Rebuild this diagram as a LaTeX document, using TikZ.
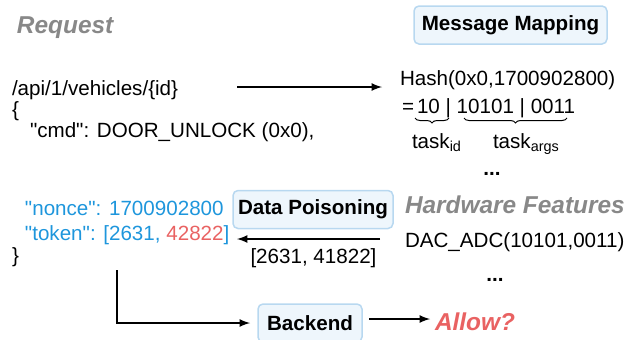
\documentclass[tikz,border=0pt]{standalone}
\usepackage{fontspec}
\setmainfont{Liberation Sans}
\usetikzlibrary{positioning,decorations.pathreplacing}
\definecolor{titlegray}{HTML}{888888}
\definecolor{jsonblue}{HTML}{1E96DC}
\definecolor{alertred}{HTML}{E96262}
\definecolor{boxfill}{HTML}{EEF6FC}
\definecolor{boxline}{HTML}{B8D8F0}
\newcommand{\diagfont}{\fontsize{10.3}{12}\selectfont}
\newcommand{\headfont}{\fontsize{12.2}{14}\selectfont\bfseries\itshape}
\newcommand{\q}{\textquotedbl}

\begin{document}
\begin{tikzpicture}[x=0.5pt,y=-0.5pt,every node/.style={outer sep=0pt},
 txt/.style={anchor=base west,inner sep=0pt,font=\diagfont},
 head/.style={anchor=base west,inner sep=0pt,font=\headfont,text=titlegray},
 stage/.style={draw=boxline,line width=0.75pt,fill=boxfill,rounded corners=2.5pt,
 font=\diagfont\bfseries,minimum height=19pt,inner sep=0pt},
 flow/.style={-latex,line width=0.8pt},
 brc/.style={decorate,decoration={brace,mirror,amplitude=2.5pt},line width=0.5pt}]

\useasboundingbox (0,0) rectangle (641,339);

% request side
\node[head] (req) at (17,33) {Request};
\node[txt] (api) at (12,95) {/api/1/vehicles/\{id\}};
\node[txt] (open) at (12,116) {\{};
\node[txt] (cmd) at (30,137) {\q cmd\q: DOOR\_UNLOCK (0x0),};
\node[txt,text=jsonblue] (nonce) at (25,215) {\q nonce\q: 1700902800};
\node[txt,text=jsonblue] (token) at (25,240) {\q token\q: [2631, \textcolor{alertred}{42822}]};
\node[txt] (close) at (12,262) {\}};

% mapping
\node[stage,minimum width=96.5pt] (map) at (510.5,25) {Message Mapping};
\node[txt] (hash) at (400,85) {Hash(0x0,1700902800)};
\node[txt] (eq) at (402,113) {=};
\node[txt] (bits) at (417,113) {10 | 10101 | 0011};
\draw[brc] (415,118) -- (449,118);
\draw[brc] (464,118) -- (567,118);
\node[txt] (tid) at (412,148) {task\textsubscript{id}};
\node[txt] (targs) at (493,148) {task\textsubscript{args}};
\node[txt,font=\diagfont\bfseries,anchor=base] (dots1) at (492,175) {...};

% hardware
\node[head] (hw) at (405,213) {Hardware Features};
\node[txt] (dac) at (405,247) {DAC\_ADC(10101,0011)};
\node[txt,font=\diagfont\bfseries,anchor=base] (dots2) at (495,281) {...};

\node[stage,minimum width=80pt] (poison) at (313,209.5) {Data Poisoning};
\node[stage,minimum width=52pt] (backend) at (310,323) {Backend};
\node[head,text=alertred] (allow) at (435,330) {Allow?};

\coordinate (apiout) at (237,87);
\coordinate (hashin) at (382,87);
\coordinate (dacout) at (380,239);
\coordinate (tokenin) at (237,239);
\coordinate (reqout) at (117,270);
\coordinate (allowin) at (430,319);

\draw[flow] (apiout) -- (hashin);
\draw[flow] (dacout) -- (tokenin) node[midway,below=5pt,xshift=2.5pt,inner sep=0pt,font=\diagfont] (leak) {[2631, 41822]};
\draw[flow] (reqout) |- ([xshift=-4pt]backend.west);
\draw[flow] ([xshift=3.5pt]backend.east |- allowin) -- (allowin);

\end{tikzpicture}
\end{document}
